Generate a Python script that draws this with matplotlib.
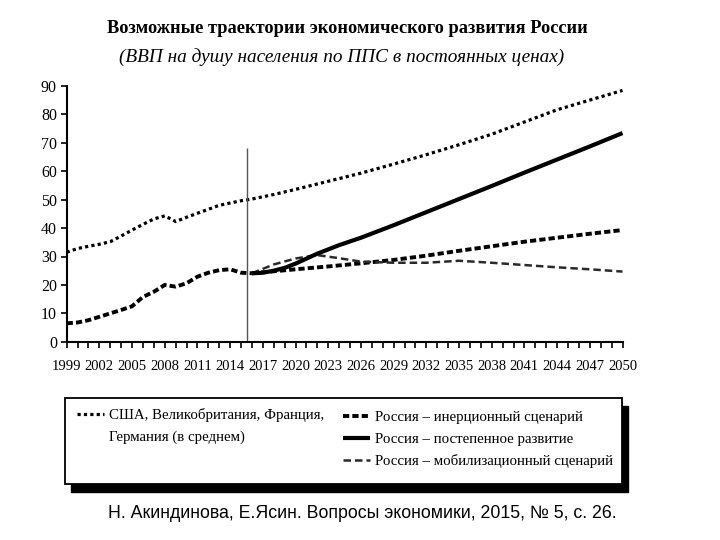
import matplotlib
matplotlib.use("Agg")
import matplotlib.pyplot as plt
from matplotlib.patches import Rectangle
from matplotlib.lines import Line2D
from matplotlib.ticker import MultipleLocator

plt.rcParams["font.family"] = ["Liberation Serif", "DejaVu Serif"]

# USA, UK, France, Germany (average)
west_years = [1999, 2000, 2001, 2002, 2003, 2004, 2005, 2006, 2007, 2008, 2009, 2010,
              2011, 2012, 2013, 2014, 2015, 2016, 2018, 2020, 2022, 2024, 2026, 2029,
              2032, 2035, 2038, 2041, 2044, 2047, 2050]
west_vals = [31.5, 32.8, 33.6, 34.3, 35.2, 37.2, 39.3, 41.3, 43.2, 44.3, 42.3, 43.8,
             45.2, 46.6, 48.0, 48.8, 49.6, 50.2, 51.8, 53.6, 55.5, 57.4, 59.3, 62.5,
             65.8, 69.3, 73.0, 77.3, 81.6, 85.0, 88.4]

# Russia, actual (drawn in the inertial style)
hist_years = [1999, 2000, 2001, 2002, 2003, 2004, 2005, 2006, 2007, 2008, 2009, 2010,
              2011, 2012, 2013, 2014, 2015, 2016]
hist_vals = [6.5, 6.8, 7.6, 8.8, 10.0, 11.2, 12.5, 15.8, 17.6, 20.0, 19.4, 20.6,
             22.9, 24.3, 25.2, 25.5, 24.3, 24.1]

# scenarios
inert_years = [2016, 2018, 2020, 2023, 2026, 2029, 2032, 2035, 2038, 2041, 2044, 2047, 2050]
inert_vals = [24.1, 24.8, 25.5, 26.5, 27.6, 28.8, 30.3, 32.0, 33.6, 35.2, 36.6, 38.0, 39.3]

grad_years = [2016, 2017, 2018, 2019, 2020, 2022, 2024, 2026, 2029, 2032, 2035, 2038,
              2041, 2044, 2047, 2050]
grad_vals = [24.1, 24.3, 25.0, 26.0, 27.5, 31.0, 34.0, 36.6, 41.0, 45.6, 50.2, 54.8,
             59.5, 64.1, 68.7, 73.4]

mob_years = [2016, 2018, 2020, 2022, 2024, 2026, 2029, 2032, 2035, 2038, 2041, 2044,
             2047, 2050]
mob_vals = [24.1, 27.2, 29.3, 30.5, 29.4, 28.2, 27.8, 27.8, 28.5, 27.8, 27.0, 26.2,
            25.5, 24.7]

split_year = 2015.5
split_top = 68

labels = ["США, Великобритания, Франция,", "Германия (в среднем)",
          "Россия – инерционный сценарий", "Россия – постепенное развитие",
          "Россия – мобилизационный сценарий"]

fig = plt.figure(figsize=(7.2, 5.4), dpi=100)
ax = fig.add_axes([0.0926, 0.367, 0.772, 0.474])

dot = dict(color="black", lw=2.3, linestyle=(0, (1, 1)))
dash = dict(color="black", lw=2.8, linestyle=(0, (1.6, 0.8)))
solid = dict(color="black", lw=3.0, linestyle="-", solid_capstyle="butt")
mob = dict(color="#2a2a2a", lw=1.8, linestyle=(0, (3, 1.6)))

l_west, = ax.plot(west_years, west_vals, **dot)
ax.plot(hist_years, hist_vals, **dash)
l_inert, = ax.plot(inert_years, inert_vals, **dash)
l_mob, = ax.plot(mob_years, mob_vals, **mob)
l_grad, = ax.plot(grad_years, grad_vals, **solid)
ax.vlines(split_year, 0, split_top, color="#555555", lw=1.0)

ax.set_xlim(1999, 2050)
ax.set_ylim(0, 90)
ax.xaxis.set_minor_locator(MultipleLocator(1))
ax.yaxis.set_major_locator(MultipleLocator(10))
for s in ["top", "right"]:
    ax.spines[s].set_visible(False)
for s in ["left", "bottom"]:
    ax.spines[s].set_linewidth(1.5)
ax.tick_params(axis="both", which="both", direction="out", length=4, width=1.2)
ax.tick_params(axis="x", pad=9, labelsize=10.5)
ax.tick_params(axis="y", pad=3, labelsize=11.5)
ax.set_xticks(range(1999, 2051, 3))
ax.set_xticklabels([str(y) for y in range(1999, 2051, 3)])

# titles
fig.text(0.483, 0.948, "Возможные траектории экономического развития России",
         ha="center", va="center", fontsize=13.2, fontweight="bold")
fig.text(0.474, 0.894, "(ВВП на душу населения по ППС в постоянных ценах)",
         ha="center", va="center", fontsize=13.9, style="italic")

# legend frame with shadow
fig.patches.append(Rectangle((71 / 720, 1 - 492 / 540), 557 / 720, 86 / 540,
                             transform=fig.transFigure, facecolor="black",
                             edgecolor="black", zorder=1))
fig.patches.append(Rectangle((65 / 720, 1 - 484 / 540), 557 / 720, 86 / 540,
                             transform=fig.transFigure, facecolor="white",
                             edgecolor="black", lw=1.3, zorder=2))

blank = Line2D([], [], color="none")
leg_kw = dict(loc="upper left", frameon=False, fontsize=10.7, handlelength=1.8,
              handletextpad=0.35, labelspacing=0.55, borderpad=0, borderaxespad=0)
leg1 = fig.legend([l_west, blank], labels[:2],
                  bbox_to_anchor=(77 / 720, 1 - 408 / 540), **leg_kw)
leg2 = fig.legend([l_inert, l_grad, l_mob], labels[2:],
                  bbox_to_anchor=(343 / 720, 1 - 411 / 540), **leg_kw)
leg1.set_zorder(3)
leg2.set_zorder(3)

fig.text(0.503, 0.05, "Н. Акиндинова, Е.Ясин. Вопросы экономики, 2015, № 5, с. 26.",
         ha="center", va="center", fontsize=12.8, family=["Liberation Sans", "DejaVu Sans"])

fig.savefig("out.png", dpi=100)
